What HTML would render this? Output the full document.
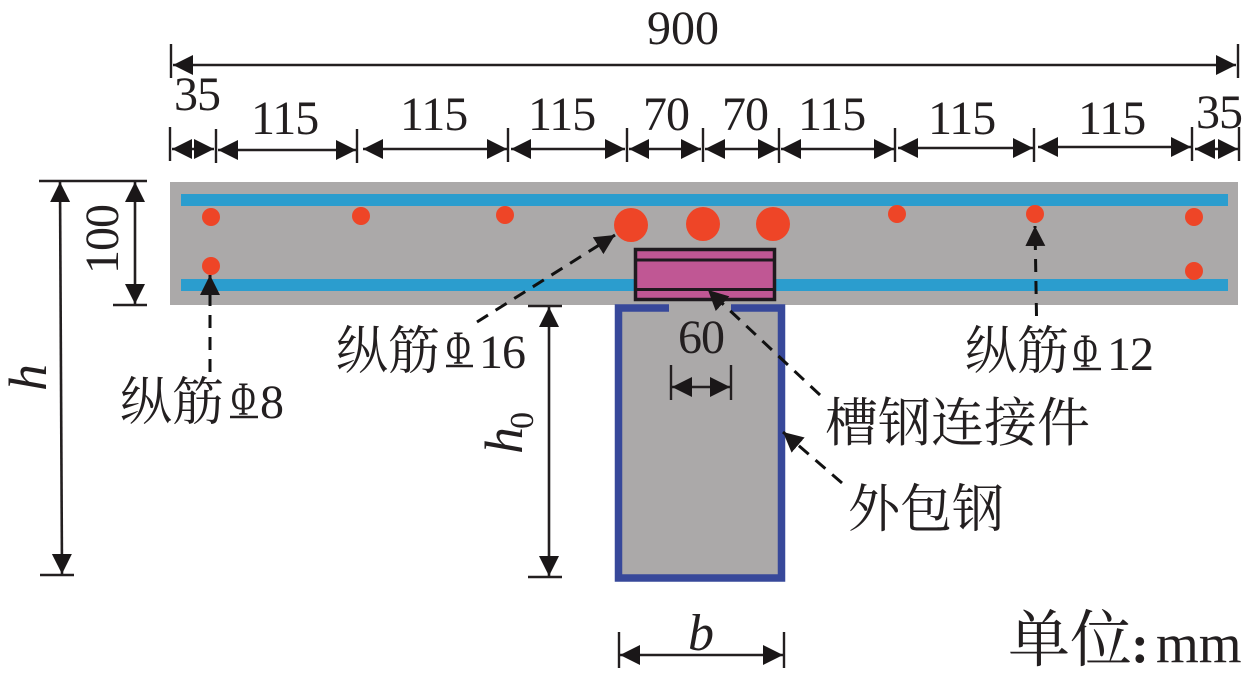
<!DOCTYPE html>
<html lang="zh">
<head>
<meta charset="utf-8">
<title>T-section diagram</title>
<style>
html,body{margin:0;padding:0;background:#fff;width:1249px;height:675px;overflow:hidden}
svg{display:block}
text{fill:#231f20;font-family:"Liberation Serif","Noto Serif CJK SC",serif}
.n{font-size:48px;letter-spacing:-1px}
.c{font-family:"Liberation Serif","Noto Serif CJK SC","Noto Sans CJK SC",serif;font-size:52px}
.i{font-style:italic}
.d{stroke:#231f20;stroke-width:2.6;fill:none;marker-start:url(#a);marker-end:url(#a)}
.t{stroke:#231f20;stroke-width:2.4;fill:none}
.l{stroke:#111;stroke-width:3;fill:none;stroke-dasharray:13 9;marker-end:url(#a)}
.r{fill:#ee4527}
.b{fill:#2b9dce}
.s{font-size:48px}
</style>
</head>
<body>
<svg width="1249" height="675" viewBox="0 0 1249 675" xmlns="http://www.w3.org/2000/svg">
<defs>
<marker id="a" markerUnits="userSpaceOnUse" markerWidth="22" markerHeight="22" refX="20" refY="11" orient="auto-start-reverse" viewBox="0 0 22 22">
<path d="M20 11 L0 1 L0 21 Z" fill="#1a1718"/>
</marker>
</defs>

<!-- beam -->
<rect x="170" y="182" width="1068" height="123" fill="#aba9a9"/>
<rect class="b" x="181" y="194" width="1047" height="12"/>
<rect class="b" x="181" y="279" width="1047" height="12"/>

<!-- web -->
<rect x="618" y="305" width="164" height="273" fill="#aba9a9"/>
<path d="M669 308 H618.500 V578 H781.500 V308 H731" fill="none" stroke="#37489a" stroke-width="7.500"/>

<!-- channel connector -->
<rect x="635.500" y="249.500" width="139" height="50" fill="#c05794" stroke="#1f1a1f" stroke-width="3.500"/>
<path d="M636 260 H774 M636 289.500 H774" stroke="#1f1a1f" stroke-width="3"/>

<!-- rebars -->
<circle class="r" cx="211" cy="217" r="9"/>
<circle class="r" cx="361" cy="216" r="9"/>
<circle class="r" cx="505" cy="215" r="9"/>
<circle class="r" cx="631" cy="225" r="17"/>
<circle class="r" cx="703" cy="224" r="17"/>
<circle class="r" cx="773" cy="224" r="17"/>
<circle class="r" cx="897" cy="214" r="9"/>
<circle class="r" cx="1035" cy="214" r="9"/>
<circle class="r" cx="1194" cy="217" r="9"/>
<circle class="r" cx="1194" cy="271" r="9"/>
<circle class="r" cx="211" cy="266" r="9"/>

<!-- top dims -->
<path class="t" d="M171 44 V78 M1238 44 V78"/>
<line class="d" x1="173" y1="65" x2="1236" y2="65"/>
<path class="t" d="M170 127 V161 M216 129 V163 M357 129 V163 M508 128 V162 M627 128 V162 M703 128 V162 M779 128 V163 M895 128 V162 M1034 128 V162 M1192 127 V161 M1239 127 V161"/>
<line class="d" x1="172" y1="149" x2="214" y2="149"/>
<line class="d" x1="218" y1="150" x2="356" y2="150"/>
<line class="d" x1="363" y1="149" x2="507" y2="149"/>
<line class="d" x1="511" y1="149" x2="625" y2="149"/>
<line class="d" x1="629" y1="149" x2="701" y2="149"/>
<line class="d" x1="705" y1="149" x2="778" y2="149"/>
<line class="d" x1="781" y1="149" x2="894" y2="149"/>
<line class="d" x1="898" y1="148" x2="1033" y2="148"/>
<line class="d" x1="1038" y1="147" x2="1191" y2="147"/>
<line class="d" x1="1195" y1="149" x2="1238" y2="149"/>

<text class="n" x="647" y="44" style="letter-spacing:0">900</text>
<text class="n" x="174" y="110">35</text>
<text class="n" x="251" y="134">115</text>
<text class="n" x="400" y="130">115</text>
<text class="n" x="528" y="130">115</text>
<text class="n" x="643" y="130">70</text>
<text class="n" x="722" y="130">70</text>
<text class="n" x="798" y="130">115</text>
<text class="n" x="928" y="134">115</text>
<text class="n" x="1078" y="134">115</text>
<text class="n" x="1196" y="128">35</text>

<!-- left dims -->
<path class="t" d="M39 181 H147 M113 305 H147 M40 575 H74"/>
<line class="d" x1="60" y1="182" x2="62" y2="574"/>
<line class="d" x1="135" y1="182" x2="135" y2="304"/>
<text class="n" transform="translate(118 274) rotate(-90)">100</text>
<text class="i" transform="translate(46 391) rotate(-90)" style="font-size:54px">h</text>

<!-- h0 -->
<path class="t" d="M528 306 H562 M528 577 H562"/>
<line class="d" x1="549" y1="307" x2="549" y2="576"/>
<text class="i" transform="translate(522 454) rotate(-90)" style="font-size:54px">h</text>
<text transform="translate(533 429) rotate(-90)" style="font-size:34px">0</text>

<!-- 60 -->
<text class="n" x="678" y="353">60</text>
<path class="t" d="M671 365 V400 M731 365 V400"/>
<line class="d" x1="672" y1="387" x2="730" y2="387"/>

<!-- b -->
<path class="t" d="M619 632 V668 M784 632 V668"/>
<line class="d" x1="620" y1="655" x2="783" y2="655"/>
<text class="i" x="688" y="650" style="font-size:52px">b</text>

<!-- leaders -->
<path class="l" d="M210 372 L210 275"/>
<path class="l" d="M477 322 L615 235"/>
<path class="l" d="M1036.500 316 L1035 226"/>
<path class="l" d="M820 395 L708 290"/>
<path class="l" d="M842 483 L783 432"/>

<!-- labels -->
<text class="c" x="120" y="420">纵筋</text>
<text class="s" transform="translate(231 415) scale(.7 1)">Φ</text>
<path class="t" d="M230 417 H258"/>
<text class="n" x="260" y="418">8</text>

<text class="c" x="336" y="369">纵筋</text>
<text class="s" transform="translate(446 364) scale(.7 1)">Φ</text>
<path class="t" d="M446 366 H473"/>
<text class="n" x="479" y="368">16</text>

<text class="c" x="965" y="369">纵筋</text>
<text class="s" transform="translate(1073 367) scale(.7 1)">Φ</text>
<path class="t" d="M1073 369 H1101"/>
<text class="n" x="1107" y="370">12</text>

<text class="c" x="825" y="441" style="font-size:53px">槽钢连接件</text>
<text class="c" x="848" y="527">外包钢</text>

<text class="c" x="1008" y="661" style="font-size:62px">单位</text>
<text x="1131" y="662" style="font-size:54px;font-weight:bold">:</text>
<text x="1156" y="662" style="font-size:55px">mm</text>
</svg>
</body>
</html>
